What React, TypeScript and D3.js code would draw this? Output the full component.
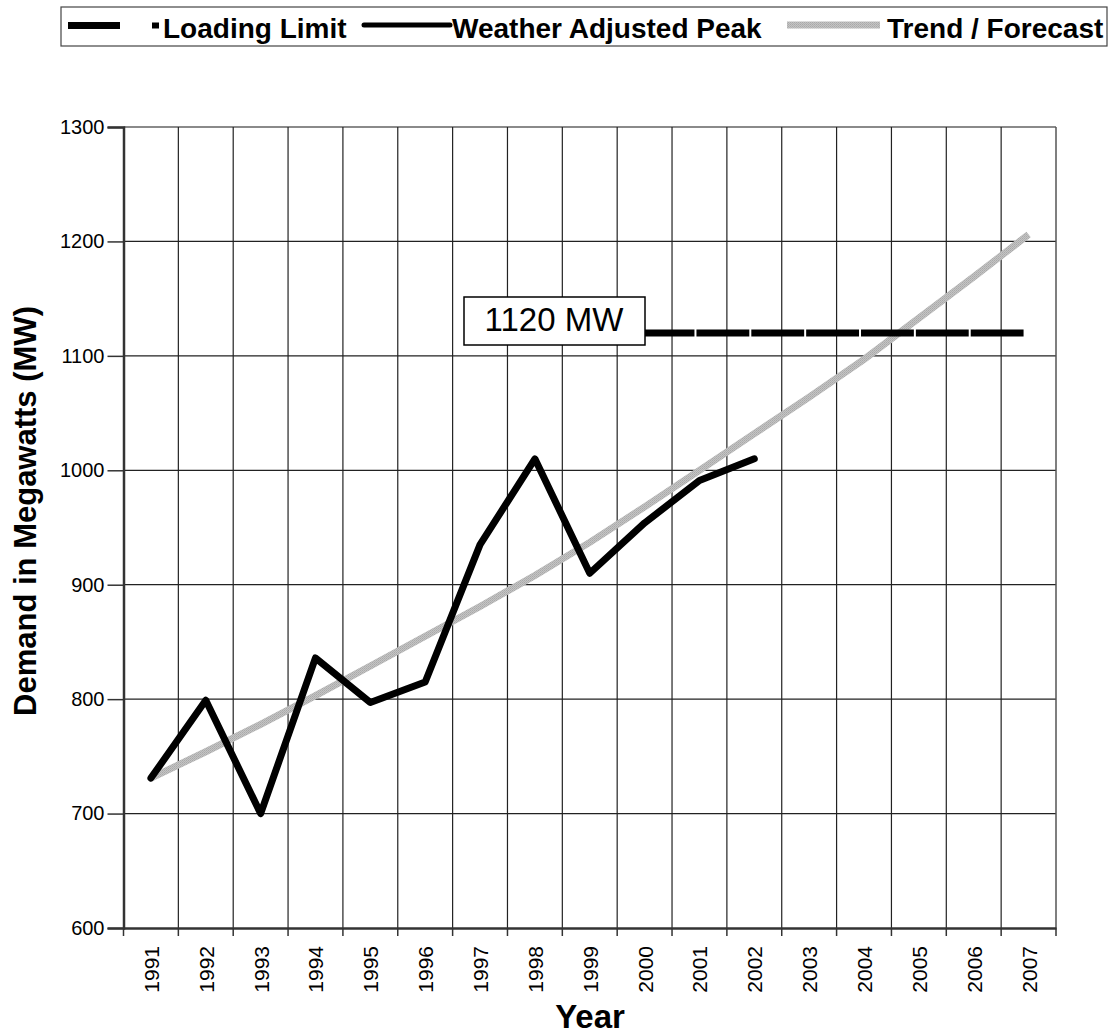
import React, { useEffect, useRef } from 'react';
import * as d3 from 'd3';

const years = ['1991', '1992', '1993', '1994', '1995', '1996', '1997', '1998', '1999', '2000', '2001', '2002', '2003', '2004', '2005', '2006', '2007'];
const peakYears = years.slice(0, 12);
const peakValues = [731, 799, 700, 836, 797, 815, 935, 1010, 910, 954, 991, 1010];
const trendValues = [731, 754, 778, 803, 829, 855, 881, 908, 937, 968, 1000, 1032, 1064, 1097, 1133, 1169, 1206];
const limitYears = years.slice(6);
const limitValue = 1120;
const yTicks = [600, 700, 800, 900, 1000, 1100, 1200, 1300];

const W = 1110;
const H = 1036;
const margin = { top: 127, right: 54, bottom: 108, left: 123.5 };
const font = 'Liberation Sans, Arial, sans-serif';

const App: React.FC = () => {
  const svgRef = useRef<SVGSVGElement>(null);

  useEffect(() => {
    if (!svgRef.current) return;
    const svg = d3.select(svgRef.current);
    svg.selectAll('*').remove();

    const x = d3.scaleBand<string>().domain(years).range([margin.left, W - margin.right]);
    const y = d3.scaleLinear().domain([600, 1300]).range([H - margin.bottom, margin.top]);
    const cx = (yr: string) => (x(yr) as number) + x.bandwidth() / 2;

    // hatched grey for the trend line
    const defs = svg.append('defs');
    const pat = defs.append('pattern')
      .attr('id', 'trendPat')
      .attr('patternUnits', 'userSpaceOnUse')
      .attr('width', 2)
      .attr('height', 2);
    pat.append('rect').attr('width', 2).attr('height', 2).attr('fill', '#c4c4c4');
    pat.append('rect').attr('width', 1).attr('height', 1).attr('fill', '#a9a9a9');
    pat.append('rect').attr('x', 1).attr('y', 1).attr('width', 1).attr('height', 1).attr('fill', '#b2b2b2');

    // grid
    const grid = svg.append('g');
    grid.selectAll('line.h')
      .data(yTicks.slice(1))
      .enter().append('line')
      .attr('x1', margin.left).attr('x2', W - margin.right)
      .attr('y1', d => y(d)).attr('y2', d => y(d))
      .attr('stroke', d => (d === 1300 ? '#8a8a8a' : '#222'))
      .attr('stroke-width', d => (d === 1300 ? 2 : 1.2));
    grid.selectAll('line.v')
      .data(years.slice(1))
      .enter().append('line')
      .attr('x1', d => x(d) as number).attr('x2', d => x(d) as number)
      .attr('y1', margin.top).attr('y2', H - margin.bottom)
      .attr('stroke', '#222').attr('stroke-width', 1.2);
    grid.append('line')
      .attr('x1', W - margin.right).attr('x2', W - margin.right)
      .attr('y1', margin.top).attr('y2', H - margin.bottom)
      .attr('stroke', '#555').attr('stroke-width', 1.5);

    // axes
    const yAxis = svg.append('g')
      .attr('transform', `translate(${margin.left},0)`)
      .call(d3.axisLeft(y).tickValues(yTicks).tickFormat(d3.format('d')).tickSize(16).tickPadding(4));
    yAxis.select('.domain').attr('stroke', '#333').attr('stroke-width', 2.5);
    yAxis.selectAll('.tick line').attr('stroke', '#333').attr('stroke-width', 1.5);
    yAxis.selectAll('.tick text')
      .attr('font-family', font).attr('font-size', 20).attr('fill', '#000')
      .attr('x', -19);

    const xAxis = svg.append('g')
      .attr('transform', `translate(0,${H - margin.bottom})`)
      .call(d3.axisBottom(x).tickSize(0).tickFormat(() => ''));
    xAxis.select('.domain').attr('stroke', '#333').attr('stroke-width', 2.5);
    xAxis.selectAll('line.bt')
      .data(years.concat(['end']))
      .enter().append('line')
      .attr('x1', (d, i) => margin.left + i * x.bandwidth())
      .attr('x2', (d, i) => margin.left + i * x.bandwidth())
      .attr('y1', 0).attr('y2', 8)
      .attr('stroke', '#333').attr('stroke-width', 1.5);
    xAxis.selectAll('text.yr')
      .data(years)
      .enter().append('text')
      .attr('transform', d => `translate(${cx(d) + 8},18) rotate(-90)`)
      .attr('text-anchor', 'end')
      .attr('font-family', font).attr('font-size', 21)
      .attr('fill', '#000')
      .text(d => d);

    // trend / forecast
    const line = d3.line<[string, number]>()
      .x(d => cx(d[0]))
      .y(d => y(d[1]));
    svg.append('path')
      .datum(years.map((yr, i) => [yr, trendValues[i]] as [string, number]))
      .attr('d', line)
      .attr('fill', 'none')
      .attr('stroke', 'url(#trendPat)')
      .attr('stroke-width', 7);

    // loading limit, dashed at each year
    svg.append('g').selectAll('line')
      .data(limitYears.slice(0, -1))
      .enter().append('line')
      .attr('x1', (d) => cx(d) - 3)
      .attr('x2', (d, i) => cx(limitYears[i + 1]) - 5)
      .attr('y1', y(limitValue)).attr('y2', y(limitValue))
      .attr('stroke', '#000').attr('stroke-width', 7);

    // weather adjusted peak
    svg.append('path')
      .datum(peakYears.map((yr, i) => [yr, peakValues[i]] as [string, number]))
      .attr('d', line)
      .attr('fill', 'none')
      .attr('stroke', '#000')
      .attr('stroke-width', 7)
      .attr('stroke-linejoin', 'round')
      .attr('stroke-linecap', 'round');

    // label box
    const lb = svg.append('g');
    lb.append('rect')
      .attr('x', 464).attr('y', 297).attr('width', 181).attr('height', 48)
      .attr('fill', '#fff').attr('stroke', '#000').attr('stroke-width', 1.5);
    lb.append('text')
      .attr('x', 554).attr('y', 331)
      .attr('text-anchor', 'middle')
      .attr('font-family', font).attr('font-size', 33)
      .text(`${limitValue} MW`);

    // axis titles
    svg.append('text')
      .attr('transform', `translate(36,511) rotate(-90)`)
      .attr('text-anchor', 'middle')
      .attr('font-family', font).attr('font-size', 31).attr('font-weight', 'bold')
      .text('Demand in Megawatts (MW)');
    svg.append('text')
      .attr('x', 590).attr('y', 1028)
      .attr('text-anchor', 'middle')
      .attr('font-family', font).attr('font-size', 33).attr('font-weight', 'bold')
      .text('Year');

    // legend
    const lg = svg.append('g');
    lg.append('rect')
      .attr('x', 61).attr('y', 7).attr('width', 1046).attr('height', 39)
      .attr('fill', '#fff').attr('stroke', '#444').attr('stroke-width', 1.2);
    lg.append('rect').attr('x', 68).attr('y', 22).attr('width', 52).attr('height', 7).attr('fill', '#000');
    lg.append('rect').attr('x', 152).attr('y', 22.5).attr('width', 7).attr('height', 6).attr('fill', '#000');
    lg.append('line')
      .attr('x1', 364).attr('x2', 450).attr('y1', 25).attr('y2', 25)
      .attr('stroke', '#000').attr('stroke-width', 5).attr('stroke-linecap', 'round');
    lg.append('rect').attr('x', 787).attr('y', 21.5).attr('width', 93).attr('height', 7).attr('fill', 'url(#trendPat)');
    const items = [
      { label: 'Loading Limit', x: 163 },
      { label: 'Weather Adjusted Peak', x: 452 },
      { label: 'Trend / Forecast', x: 887 },
    ];
    lg.selectAll('text')
      .data(items)
      .enter().append('text')
      .attr('x', d => d.x).attr('y', 38)
      .attr('font-family', font).attr('font-size', 28).attr('font-weight', 'bold')
      .text(d => d.label);
  }, []);

  return (
    <svg ref={svgRef} width={W} height={H} viewBox={`0 0 ${W} ${H}`} style={{ position: 'absolute', left: 0, top: 0, background: '#fff' }} />
  );
};

export default App;
